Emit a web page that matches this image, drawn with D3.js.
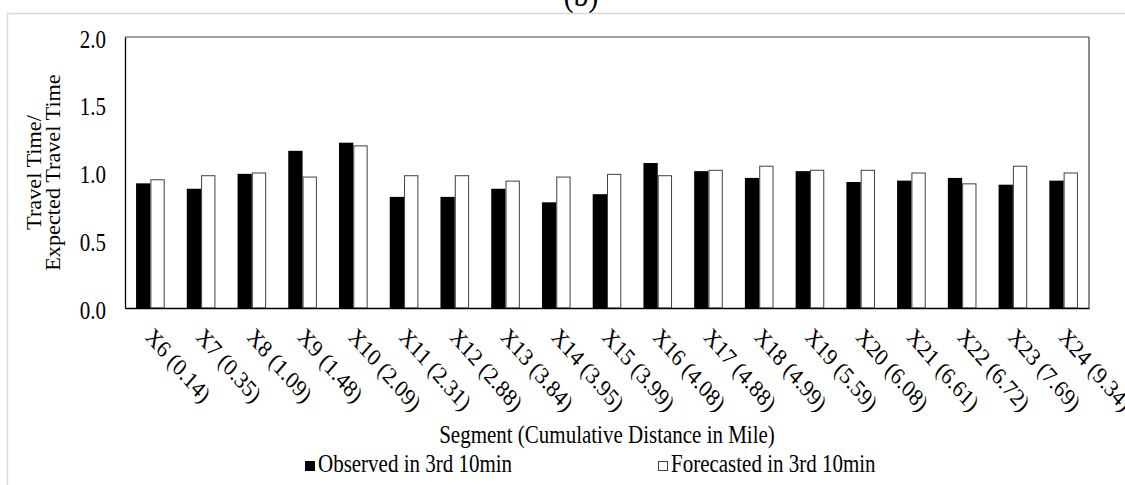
<!DOCTYPE html>
<html>
<head>
<meta charset="utf-8">
<script src="https://cdn.jsdelivr.net/npm/d3@7/dist/d3.min.js"></script>
<style>
  html, body { margin: 0; padding: 0; background: #fff; }
  svg { display: block; }
  text { font-family: "Liberation Serif", "Times New Roman", serif; fill: #000; }
</style>
</head>
<body>
<svg id="chart" width="1125" height="485"></svg>
<script>
// Segments with cumulative distance (miles)
const categories = [
  "X6 (0.14)", "X7 (0.35)", "X8 (1.09)", "X9 (1.48)", "X10 (2.09)",
  "X11 (2.31)", "X12 (2.88)", "X13 (3.84)", "X14 (3.95)", "X15 (3.99)",
  "X16 (4.08)", "X17 (4.88)", "X18 (4.99)", "X19 (5.59)", "X20 (6.08)",
  "X21 (6.61)", "X22 (6.72)", "X23 (7.69)", "X24 (9.34)"
];
// Travel time / expected travel time ratios
const observed = [
  0.92, 0.88, 0.99, 1.16, 1.22, 0.82, 0.82, 0.88, 0.78, 0.84,
  1.07, 1.01, 0.96, 1.01, 0.93, 0.94, 0.96, 0.91, 0.94
];
const forecasted = [
  0.95, 0.98, 1.00, 0.97, 1.20, 0.98, 0.98, 0.94, 0.97, 0.99,
  0.98, 1.02, 1.05, 1.02, 1.02, 1.00, 0.92, 1.05, 1.00
];
const seriesNames = ["Observed in 3rd 10min", "Forecasted in 3rd 10min"];
const yTicks = [0.0, 0.5, 1.0, 1.5, 2.0];

const svg = d3.select("#chart");
const FS = 21;        // base font size
const SY = 1.15;      // vertical text stretch

const plot = { left: 125, right: 1089, top: 37, bottom: 308 };

// chart area frame (partly beyond the canvas)
svg.append("path")
  .attr("d", "M7.5,490 V13.5 H1130")
  .attr("fill", "none").attr("stroke", "#d9d9d9").attr("stroke-width", 1.3);

// panel title, mostly above the canvas
svg.append("text")
  .attr("transform", `translate(581,6) scale(1,${SY})`)
  .attr("text-anchor", "middle")
  .attr("font-size", 30)
  .text("(b)");

const x = d3.scaleBand()
  .domain(categories)
  .range([plot.left, plot.right])
  .paddingInner(0.436)
  .paddingOuter(0.218);

const xSub = d3.scaleBand()
  .domain([0, 1])
  .range([0, x.bandwidth()])
  .padding(0);

const y = d3.scaleLinear().domain([0, 2]).range([plot.bottom, plot.top]);

// plot area border: top and right
svg.append("line")
  .attr("x1", plot.left).attr("x2", plot.right)
  .attr("y1", plot.top).attr("y2", plot.top)
  .attr("stroke", "#808080").attr("stroke-width", 1.5);
svg.append("line")
  .attr("x1", plot.right).attr("x2", plot.right)
  .attr("y1", plot.top).attr("y2", plot.bottom)
  .attr("stroke", "#404040").attr("stroke-width", 1.2);

// bars
const rows = categories.map((c, i) => ({ cat: c, vals: [observed[i], forecasted[i]] }));
const groups = svg.append("g").selectAll("g")
  .data(rows).join("g")
  .attr("transform", d => `translate(${x(d.cat)},0)`);

groups.selectAll("rect")
  .data(d => d.vals.map((v, k) => ({ v, k })))
  .join("rect")
  .attr("x", d => xSub(d.k) + (d.k === 1 ? 0.5 : 0))
  .attr("y", d => y(d.v) + (d.k === 1 ? 0.5 : 0))
  .attr("width", d => xSub.bandwidth() - (d.k === 1 ? 1 : 0))
  .attr("height", d => y(0) - y(d.v) - (d.k === 1 ? 0.5 : 0))
  .attr("fill", d => d.k === 0 ? "#000" : "#fff")
  .attr("stroke", d => d.k === 0 ? "none" : "#404040")
  .attr("stroke-width", 1);

// y axis
const yAxis = svg.append("g")
  .attr("transform", `translate(${plot.left},0)`)
  .call(d3.axisLeft(y).tickValues(yTicks).tickSize(0).tickPadding(19)
    .tickFormat(d3.format(".1f")));
yAxis.select(".domain").attr("stroke", "#000").attr("stroke-width", 1.3);
yAxis.selectAll("text")
  .attr("font-family", "Liberation Serif")
  .attr("font-size", FS)
  .attr("dy", "0.42em")
  .attr("transform", `scale(1,${SY})`);

// x axis
const xAxis = svg.append("g")
  .attr("transform", `translate(0,${plot.bottom})`)
  .call(d3.axisBottom(x).tickSize(0));
xAxis.select(".domain").attr("stroke", "#000").attr("stroke-width", 1.3);
xAxis.selectAll("text")
  .attr("font-family", "Liberation Serif")
  .attr("font-size", FS)
  .attr("x", 0).attr("y", 0).attr("dy", 0)
  .attr("text-anchor", "start")
  .attr("transform", `translate(-6,30) scale(1,${SY}) rotate(45)`);

// axis titles
svg.append("text")
  .attr("transform", `translate(${(plot.left + plot.right) / 2},443) scale(1,${SY})`)
  .attr("text-anchor", "middle")
  .attr("font-size", FS)
  .text("Segment (Cumulative Distance in Mile)");

const yTitle = svg.append("text")
  .attr("transform", `translate(0,${(plot.top + plot.bottom) / 2}) scale(1,1.06) rotate(-90)`)
  .attr("text-anchor", "middle")
  .attr("font-size", FS);
yTitle.append("tspan").attr("x", 0).attr("y", 41).text("Travel Time/");
yTitle.append("tspan").attr("x", 0).attr("y", 60).text("Expected Travel Time");

// legend
const legendX = [305, 658];
const legend = svg.append("g").selectAll("g")
  .data(seriesNames).join("g")
  .attr("transform", (d, i) => `translate(${legendX[i]},472)`);
legend.append("rect")
  .attr("x", (d, i) => i === 0 ? 0 : 0.5)
  .attr("y", (d, i) => -11 + (i === 0 ? 0 : 0.5))
  .attr("width", (d, i) => i === 0 ? 10 : 9)
  .attr("height", (d, i) => i === 0 ? 10 : 9)
  .attr("fill", (d, i) => i === 0 ? "#000" : "#fff")
  .attr("stroke", (d, i) => i === 0 ? "none" : "#404040");
legend.append("text")
  .attr("transform", `translate(13,0) scale(1,${SY})`)
  .attr("font-size", FS)
  .text(d => d);
</script>
</body>
</html>
